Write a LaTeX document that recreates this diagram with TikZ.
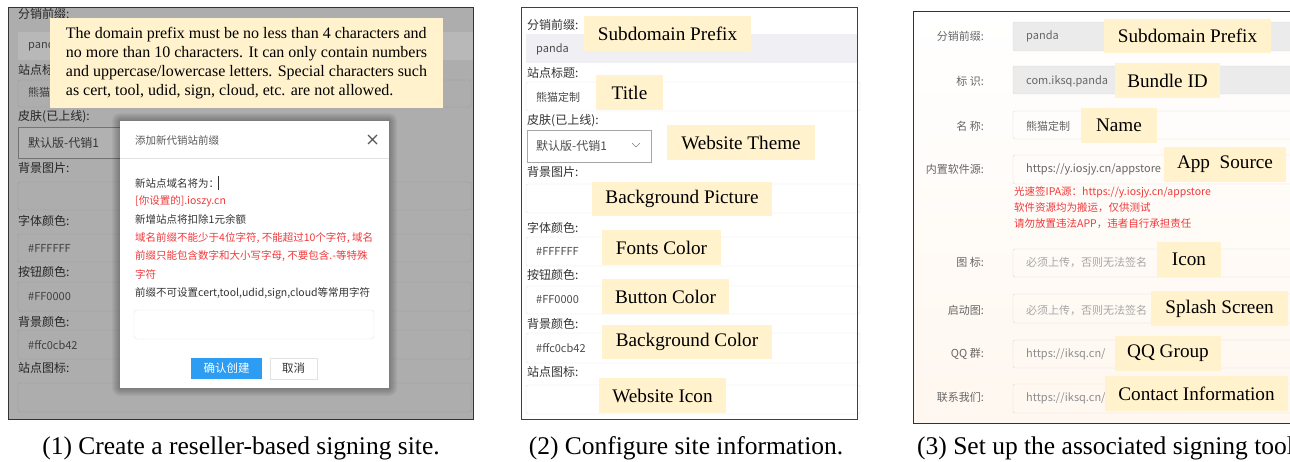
\documentclass[tikz,border=0pt]{standalone}
\usepackage{fontspec}
\usepackage{tikz}
\setmainfont{Liberation Serif}
\newfontfamily\cjk{Noto Sans CJK SC}
\definecolor{notebg}{HTML}{FFF2CC}
\definecolor{ovbg}{HTML}{ADADAD}
\definecolor{ovline}{HTML}{9C9C9C}
\definecolor{uiline}{HTML}{E2E2E2}
\definecolor{uitext}{HTML}{333333}
\definecolor{warnred}{HTML}{F0393B}
\definecolor{okblue}{HTML}{2D9CF3}
\newcommand{\cnsize}[1]{\cjk\fontsize{#1}{#1}\selectfont}

\begin{document}
\begin{tikzpicture}[x=1pt, y=-1pt,
    tag/.style={fill=notebg, inner sep=0pt, font=\fontsize{19.2}{21}\selectfont},
    cnlab/.style={anchor=west, inner sep=0pt, text=uitext, font=\cnsize{12}},
    rlab/.style={anchor=east, inner sep=0pt, text=black!60, font=\cnsize{11}},
    val/.style={anchor=west, inner sep=0pt, text=black!70, font=\cnsize{11}},
    dlg/.style={anchor=west, inner sep=0pt, text=uitext, font=\cnsize{10.5}},
    dlgred/.style={dlg, text=warnred},
    caption/.style={inner sep=0pt, font=\fontsize{25.5}{27}\selectfont}]
\useasboundingbox (0,0) rectangle (1290,461);
\clip (0,0) rectangle (1290,461);

% panel 1: dialog over a greyed form
\fill[ovbg] (8,7) rectangle (473,419);
\fill[black!28] (18,32) rectangle (473,60);
\foreach \ya/\yb in {80/107, 182/210, 234/262, 282/311, 330/359, 383/412}
  \draw[ovline, rounded corners=2pt, fill=ovbg] (18,\ya) rectangle (471,\yb);
\draw[black!55, fill=ovbg!95!white] (18,127) rectangle (200,158);
\foreach \nm/\yy/\txt in {a1/14/分销前缀:, a2/70/站点标题:, a3/117/皮肤(已上线):,
    a4/168/背景图片:, a5/221/字体颜色:, a6/272/按钮颜色:, a7/322/背景颜色:, a8/368/站点图标:}
  \node[cnlab, text=black!85] (\nm) at (18,\yy) {\txt};
\node[val, text=black!75] (v1) at (28,45) {panda};
\node[val, text=black!75] (v2) at (28,92) {熊猫定制};
\node[val, text=black!80, font=\cnsize{12}] (v3) at (28,143) {默认版-代销1};
\node[val, text=black!75] (v5) at (28,248) {\#FFFFFF};
\node[val, text=black!75] (v6) at (28,297) {\#FF0000};
\node[val, text=black!75] (v7) at (28,345) {\#ffc0cb42};

\node[fill=notebg, minimum width=393, minimum height=90, inner sep=0pt,
  align=left, font=\fontsize{16}{19}\selectfont] (note) at (246.5,63)
  {The domain prefix must be no less than 4 characters and\\
   no more than 10 characters. It can only contain numbers\\
   and uppercase/lowercase letters. Special characters such\\
   as cert, tool, udid, sign, cloud, etc. are not allowed.};

% soft shadow, then the dialog
\foreach \s in {1,...,8}
  \fill[black, opacity=0.035, rounded corners=\s] (120-\s,121-\s) rectangle (389+\s,388+\s);
\fill[white] (120,121) rectangle (389,388);
\node[dlg, text=black!65] (dhead) at (135,140) {添加新代销站前缀};
\draw[black!65, line width=1.1pt] (368,135) -- (377,144) (377,135) -- (368,144);
\draw[uiline] (120,158) -- (389,158);
\node[dlg] (d1) at (135,183) {新站点域名将为：};
\draw[black!80] (218,176) -- (218,190);
\node[dlgred] (d2) at (135,201) {[你设置的].ioszy.cn};
\node[dlg] (d3) at (135,219) {新增站点将扣除1元余额};
\node[dlgred] (d4) at (135,238) {域名前缀不能少于4位字符, 不能超过10个字符, 域名};
\node[dlgred] (d5) at (135,256) {前缀只能包含数字和大小写字母, 不要包含.-等特殊};
\node[dlgred] (d6) at (135,274) {字符};
\node[dlg] (d7) at (135,293) {前缀不可设置cert,tool,udid,sign,cloud等常用字符};
\draw[uiline, rounded corners=3pt] (134,310) rectangle (374,339);
\fill[okblue] (191,358) rectangle (262,379);
\node[font=\cnsize{11.5}, text=white] (ok) at (226.5,368.5) {确认创建};
\draw[uiline] (270,358) rectangle (317,379);
\node[font=\cnsize{11.5}, text=uitext] (cancel) at (293.5,368.5) {取消};
\draw[black!80, line width=1pt] (8,7) rectangle (473,419);
\node[caption] (cap1) at (241,448) {(1) Create a reseller-based signing site.};

% panel 2: site information
\fill[white] (521,7) rectangle (857,419);
\fill[blue!30!black!6] (526,34) rectangle (857,63);
\foreach \ya/\yb in {82/111, 184/213, 237/266, 286/314, 333/363, 385/414}
  \draw[uiline, rounded corners=2pt] (526,\ya) rectangle (860,\yb);
\draw[black!35, fill=white] (527,130) rectangle (651,162);
\draw[black!50] (632,143) -- (636,147) -- (640,143);
\foreach \nm/\yy/\txt in {b1/25/分销前缀:, b2/73/站点标题:, b3/121/皮肤(已上线):,
    b4/172/背景图片:, b5/228/字体颜色:, b6/275/按钮颜色:, b7/324/背景颜色:, b8/372/站点图标:}
  \node[cnlab] (\nm) at (527,\yy) {\txt};
\node[val] (w1) at (536,49) {panda};
\node[val] (w2) at (536,97) {熊猫定制};
\node[val, font=\cnsize{12}] (w3) at (536,146) {默认版-代销1};
\node[val] (w5) at (536,251) {\#FFFFFF};
\node[val] (w6) at (536,300) {\#FF0000};
\node[val] (w7) at (536,348) {\#ffc0cb42};
\foreach \nm/\xa/\ya/\xb/\yb/\txt in {t1/584/16/751/51/Subdomain Prefix,
    t2/596/75/663/110/Title, t3/667/125/815/160/Website Theme,
    t4/592/182/772/216/Background Picture, t5/602/230/721/265/Fonts Color,
    t6/602/279/729/314/Button Color, t7/602/325/772/359/Background Color,
    t8/599/378/726/413/Website Icon}
  \node[tag, minimum width=\xb-\xa, minimum height=\yb-\ya] (\nm)
    at ({(\xa+\xb)/2},{(\ya+\yb)/2}) {\txt};
\draw[black!75, line width=1pt] (521,7) rectangle (857,419);
\node[caption] (cap2) at (686,448) {(2) Configure site information.};

% panel 3: signing tool
\shade[top color=white, bottom color=orange!6!white] (913,11) rectangle (1300,423);
\fill[black!8] (1013,22) rectangle (1300,51);
\fill[black!8] (1013,66) rectangle (1300,94);
\foreach \ya/\yb in {22/51, 66/94, 111/139, 155/184, 249/277, 294/323, 340/368, 384/413}
  \draw[black!15, rounded corners=2pt] (1013,\ya) rectangle (1300,\yb);
\foreach \nm/\yy/\txt in {c1/36/分销前缀:, c2/81/标 识:, c3/126/名 称:, c4/169/内置软件源:,
    c5/262/图 标:, c6/310/启动图:, c7/354/QQ 群:, c8/397/联系我们:}
  \node[rlab] (\nm) at (984,\yy) {\txt};
\node[val, text=black!60] (u1) at (1026,36) {panda};
\node[val, text=black!60] (u2) at (1026,81) {com.iksq.panda};
\node[val, text=black!60] (u3) at (1026,126) {熊猫定制};
\node[val, text=black!60] (u4) at (1026,169) {https://y.iosjy.cn/appstore};
\node[val, text=black!35] (u5) at (1026,262) {必须上传，否则无法签名};
\node[val, text=black!35] (u6) at (1026,310) {必须上传，否则无法签名};
\node[val, text=black!45] (u7) at (1026,354) {https://iksq.cn/};
\node[val, text=black!45] (u8) at (1026,398) {https://iksq.cn/};
\node[dlgred] (r1) at (1014,192) {光速签IPA源：https://y.iosjy.cn/appstore};
\node[dlgred] (r2) at (1014,208) {软件资源均为搬运，仅供测试};
\node[dlgred] (r3) at (1014,224) {请勿放置违法APP，违者自行承担责任};
\foreach \nm/\xa/\ya/\xb/\yb/\txt in {s1/1104/19/1271/53/Subdomain Prefix,
    s2/1115/63/1220/98/Bundle ID, s3/1081/108/1157/143/Name,
    s4/1164/147/1286/182/App~~Source, s5/1157/242/1221/277/Icon,
    s6/1151/291/1288/326/Splash Screen, s7/1115/336/1221/371/QQ Group,
    s8/1105/376/1288/411/Contact Information}
  \node[tag, minimum width=\xb-\xa, minimum height=\yb-\ya] (\nm)
    at ({(\xa+\xb)/2},{(\ya+\yb)/2}) {\txt};
\draw[black!80, line width=1pt] (913,11) rectangle (1300,423);
\node[caption, anchor=west] (cap3) at (917,448) {(3) Set up the associated signing tool.};
\end{tikzpicture}
\end{document}
